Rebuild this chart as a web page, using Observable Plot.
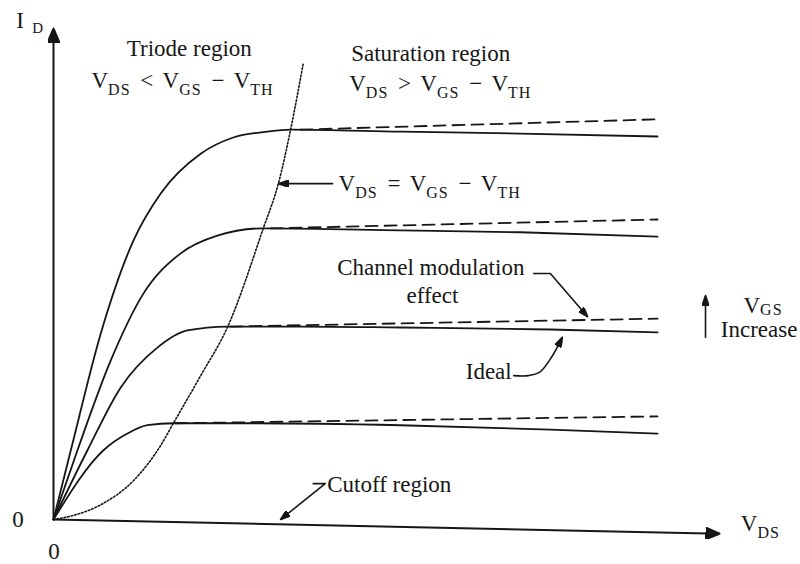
<!DOCTYPE html>
<html><head><meta charset="utf-8">
<script src="https://cdn.jsdelivr.net/npm/d3@7"></script>
<script src="https://cdn.jsdelivr.net/npm/@observablehq/plot@0.6"></script>
<style>html,body{margin:0;padding:0;background:#fff;}</style>
</head><body><div id="chart"></div>
<script>
// ---- Output characteristics (V_DS, I_D in arbitrary units) ----
const vdsC1 = [0, 0.26, 0.71, 1.20, 1.61, 2.21, 2.70, 3.21, 3.56, 5.21, 7.01, 9.07];
const idC1  = [0, 1.41, 3.79, 5.68, 6.64, 7.45, 7.78, 7.90, 7.94, 7.90, 7.86, 7.80];
const vdsC2 = [0, 0.36, 0.86, 1.35, 1.91, 2.46, 3.15, 5.21, 7.01, 9.07];
const idC2  = [0, 1.41, 3.24, 4.60, 5.42, 5.78, 5.93, 5.89, 5.85, 5.76];
const vdsC3 = [0, 0.51, 1.01, 1.56, 2.01, 2.61, 3.71, 5.21, 7.46, 9.07];
const idC3  = [0, 1.41, 2.69, 3.50, 3.85, 3.93, 3.93, 3.91, 3.87, 3.81];
const vdsC4 = [0, 0.75, 1.11, 1.41, 1.80, 2.96, 5.21, 7.46, 9.07];
const idC4  = [0, 1.41, 1.75, 1.92, 1.96, 1.96, 1.92, 1.83, 1.75];

// channel-length modulation (dashed)
const vdsM1 = [3.71, 9.07], idM1 = [7.94, 8.15];
const vdsM2 = [3.26, 9.07], idM2 = [5.93, 6.11];
const vdsM3 = [2.66, 9.07], idM3 = [3.93, 4.09];
const vdsM4 = [1.83, 9.07], idM4 = [1.96, 2.10];

// V_DS = V_GS - V_TH boundary (dotted)
const vdsVt = [0, 0.29, 0.75, 1.20, 1.61, 1.80, 2.21, 2.61, 3.15, 3.38, 3.56, 3.75];
const idVt  = [0, 0.08, 0.33, 0.79, 1.51, 1.96, 2.93, 3.91, 5.93, 6.86, 7.94, 9.29];

// axes
const axisXVds = [0, 10],  axisXId = [0, -0.29];
const axisYVds = [0, 0],   axisYId = [0, 10];

// annotation leaders
const eqLeadVds = [4.19, 3.38],             eqLeadId = [6.84, 6.84];
const chLeadVds = [7.21, 7.46, 8.02],       chLeadId = [5.01, 5.01, 4.13];
const coLeadVds = [3.90, 4.08, 3.41],       coLeadId = [0.73, 0.73, 0.0];
const vgLeadVds = [9.79, 9.79],             vgLeadId = [3.71, 4.56];
const idLeadVds = [6.91, 7.13, 7.30, 7.48, 7.64], idLeadId = [2.93, 2.93, 3.00, 3.31, 3.71];

// labels
const labelText = ["Triode region", "V_{DS} < V_{GS} − V_{TH}", "Saturation region", "V_{DS} > V_{GS} − V_{TH}",
  "V_{DS} = V_{GS} − V_{TH}", "Channel modulation", "effect", "Ideal", "V_{GS}", "Increase",
  "Cutoff region", "0", "0", "V_{DS}", "I"];
const labelVds = [1.10, 0.57, 4.47, 4.44, 4.28, 4.26, 5.30, 6.19, 10.36, 10.02, 4.11, -0.62, -0.08, 10.32, -0.56];
const labelId  = [9.43, 8.78, 9.33, 8.72, 6.70, 4.97, 4.40, 2.87, 4.20, 3.71, 0.55, -0.16, -0.80, -0.24, 10.02];
const subLabelText = ["D"], subLabelVds = [-0.32], subLabelId = [9.90];

// ---- build tables ----
const rows = (name, xs, ys) => xs.map((x, i) => ({name, vds: x, id: ys[i]}));
const solid = [...rows("c1", vdsC1, idC1), ...rows("c2", vdsC2, idC2), ...rows("c3", vdsC3, idC3), ...rows("c4", vdsC4, idC4)];
const dashed = [...rows("m1", vdsM1, idM1), ...rows("m2", vdsM2, idM2), ...rows("m3", vdsM3, idM3), ...rows("m4", vdsM4, idM4)];
const dotted = rows("vt", vdsVt, idVt);
const axes = [...rows("x", axisXVds, axisXId), ...rows("y", axisYVds, axisYId)];
const leaders = [...rows("eq", eqLeadVds, eqLeadId), ...rows("ch", chLeadVds, chLeadId), ...rows("co", coLeadVds, coLeadId), ...rows("vg", vgLeadVds, vgLeadId)];
const idealLead = rows("ideal", idLeadVds, idLeadId);
const labels = labelText.map((t, i) => ({t, vds: labelVds[i], id: labelId[i]}));
const subLabels = subLabelText.map((t, i) => ({t, vds: subLabelVds[i], id: subLabelId[i]}));

const ink = "#161616";
const NS = "http://www.w3.org/2000/svg";
function triangle(len, wid) {
  return (color) => {
    const m = document.createElementNS(NS, "marker");
    m.setAttribute("viewBox", `${-len} ${-wid / 2} ${len} ${wid}`);
    m.setAttribute("markerUnits", "userSpaceOnUse");
    m.setAttribute("markerWidth", len);
    m.setAttribute("markerHeight", wid);
    m.setAttribute("refX", 0);
    m.setAttribute("refY", 0);
    m.setAttribute("orient", "auto");
    const p = document.createElementNS(NS, "path");
    p.setAttribute("d", `M${-len},${-wid / 2}L0,0L${-len},${wid / 2}Z`);
    p.setAttribute("fill", color);
    m.appendChild(p);
    return m;
  };
}

const font = "Liberation Serif, Times New Roman, serif";
const svg = Plot.plot({
  width: 800, height: 564,
  marginLeft: 53, marginRight: 81, marginTop: 28, marginBottom: 45,
  x: {domain: [0, 10], axis: null},
  y: {domain: [0, 10], axis: null},
  style: {background: "#fff", color: ink},
  marks: [
    Plot.line(axes, {x: "vds", y: "id", z: "name", stroke: ink, strokeWidth: 2, markerEnd: triangle(14, 12)}),
    Plot.line(dotted, {x: "vds", y: "id", stroke: ink, strokeWidth: 1.6, strokeDasharray: "1.6,2", curve: "monotone-x"}),
    Plot.line(dashed, {x: "vds", y: "id", z: "name", stroke: ink, strokeWidth: 1.8, strokeDasharray: "12,7"}),
    Plot.line(solid, {x: "vds", y: "id", z: "name", stroke: ink, strokeWidth: 1.8, curve: "monotone-x"}),
    Plot.line(leaders, {x: "vds", y: "id", z: "name", stroke: ink, strokeWidth: 1.6, markerEnd: triangle(10, 7)}),
    Plot.line(idealLead, {x: "vds", y: "id", stroke: ink, strokeWidth: 1.6, curve: "catmull-rom", markerEnd: triangle(10, 7)}),
    Plot.text(labels, {x: "vds", y: "id", text: "t", textAnchor: "start", lineAnchor: "bottom", fontSize: 23, fontFamily: font, fill: ink}),
    Plot.text(subLabels, {x: "vds", y: "id", text: "t", textAnchor: "start", lineAnchor: "bottom", fontSize: 15, fontFamily: font, fill: ink})
  ]
});

// render "_{..}" as subscripts (the lone V_GS label beside "Increase" has a shallow drop)
svg.querySelectorAll("text").forEach(t => {
  const s = t.textContent;
  if (!s.includes("_{")) return;
  const drop = s === "V_{GS}" ? 2 : 7;
  t.textContent = "";
  const parts = s.split(/(_\{[^}]*\})/).filter(p => p);
  let shifted = false;
  for (const p of parts) {
    const ts = document.createElementNS(NS, "tspan");
    if (p.startsWith("_{")) {
      ts.textContent = p.slice(2, -1);
      ts.setAttribute("font-size", 16);
      ts.setAttribute("letter-spacing", "1");
      if (!shifted) ts.setAttribute("dy", drop);
      shifted = true;
    } else {
      ts.textContent = p;
      if (shifted) ts.setAttribute("dy", -drop);
      shifted = false;
    }
    t.appendChild(ts);
  }
  t.style.wordSpacing = "4px";
});

document.getElementById("chart").appendChild(svg);
</script>
</body></html>
